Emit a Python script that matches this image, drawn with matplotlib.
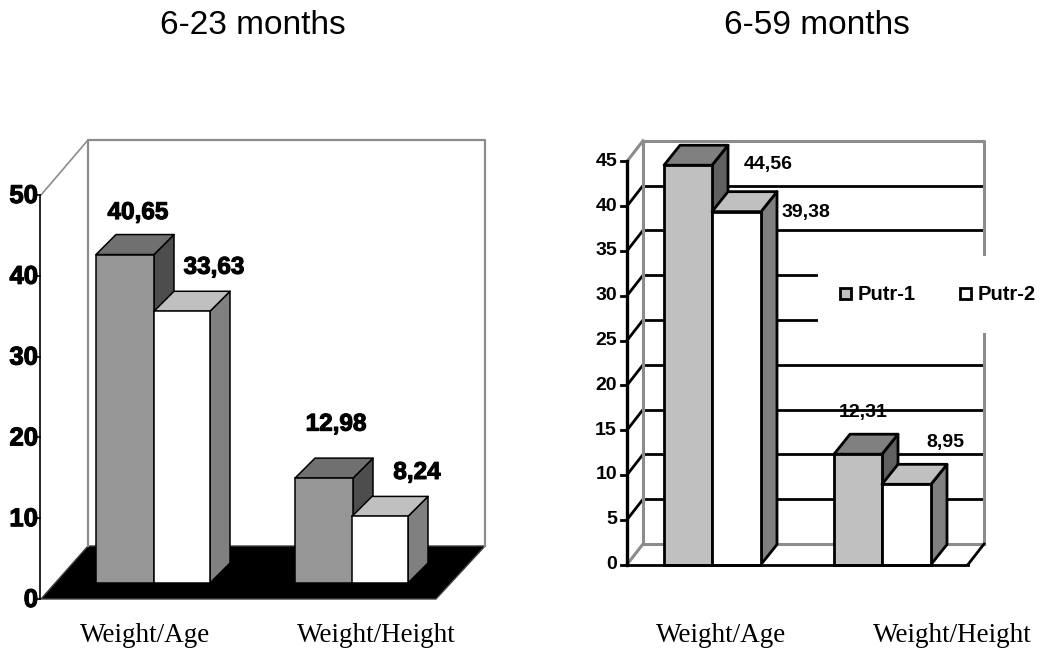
import matplotlib
matplotlib.use('Agg')
import matplotlib.pyplot as plt
import matplotlib.patheffects as pe
from matplotlib.patches import Polygon, Rectangle

W, H = 1044, 652

groups = ['Weight/Age', 'Weight/Height']
series = ['Putr-1', 'Putr-2']
left_putr1 = [40.65, 12.98]
left_putr2 = [33.63, 8.24]
right_putr1 = [44.56, 12.31]
right_putr2 = [39.38, 8.95]
left_ticks = [0, 10, 20, 30, 40, 50]
right_ticks = [0, 5, 10, 15, 20, 25, 30, 35, 40, 45]

SANS = ['Liberation Sans', 'DejaVu Sans']
SERIF = ['Liberation Serif', 'DejaVu Serif']
WALL = '#8c8c8c'
HEAVY = [pe.withStroke(linewidth=0.8, foreground='black')]

fig = plt.figure(figsize=(W / 100, H / 100), dpi=100, facecolor='white')


def panel(base_y, unit_y):
    # axes over the whole canvas, x in pixels, y in chart values
    ax = fig.add_axes([0, 0, 1, 1], facecolor='none')
    ax.set_xlim(0, W)
    ax.set_ylim((base_y - H) / unit_y, base_y / unit_y)
    ax.axis('off')
    return ax


def box(ax, x, w, val, dx, dy, front, top, side, lw):
    # a bar with its top and side faces, dx in pixels and dy in value units
    ax.add_patch(Polygon([(x + w, 0), (x + w + dx, dy), (x + w + dx, val + dy), (x + w, val)],
                         fc=side, ec='black', lw=lw, joinstyle='round'))
    ax.add_patch(Polygon([(x, val), (x + dx, val + dy), (x + w + dx, val + dy), (x + w, val)],
                         fc=top, ec='black', lw=lw, joinstyle='round'))
    ax.add_patch(Rectangle((x, 0), w, val, fc=front, ec='black', lw=lw))


def comma(v):
    return f'{v:.2f}'.replace('.', ',')


# left chart
u = 8.08
ax = panel(583, u)
fl = -16 / u       # front edge of the floor
bk = 37 / u        # back edge of the floor
top = 443 / u
ax.add_patch(Polygon([(41, fl), (88, bk), (485, bk), (436, fl)], fc='black', ec='#404040', lw=1, zorder=1))
ax.plot([88, 88, 485, 485], [bk, top, top, bk], color=WALL, lw=1.6, zorder=1)
ax.plot([41, 88], [fl + 50, top], color=WALL, lw=1.2, zorder=1)
ax.plot([40, 40], [fl, fl + 50], color='black', lw=1.2, zorder=2)
for t in left_ticks:
    ax.plot([37, 40], [fl + t, fl + t], color='black', lw=1.2, zorder=2)
    ax.text(38, fl + t - 1 / u, str(t), ha='right', va='center', family=SANS, weight='bold', size=18.5, path_effects=HEAVY)

lx1 = [96, 295]
lx2 = [154, 352]
label_x1 = [138, 336]
label_x2 = [214, 417]
gap1 = [42, 54]
gap2 = [44, 44]
for i in range(2):
    v1, v2 = left_putr1[i], left_putr2[i]
    dy = 20 / u
    box(ax, lx1[i], 58, v1, 20, dy, '#969696', '#707070', '#4d4d4d', 1.1)
    box(ax, lx2[i], 56, v2, 20, dy, 'white', '#c0c0c0', '#808080', 1.1)
    ax.text(label_x1[i], v1 + gap1[i] / u, comma(v1), ha='center', va='center',
            family=SANS, weight='bold', size=17.5, path_effects=HEAVY)
    ax.text(label_x2[i], v2 + gap2[i] / u, comma(v2), ha='center', va='center',
            family=SANS, weight='bold', size=17.5, path_effects=HEAVY)
for x, name in zip([145, 376], groups):
    ax.text(x, -53 / u, name, ha='center', va='center', family=SERIF, size=19.5)

# right chart
u = 8.96
ax = panel(564.5, u)
bk = 20.5 / u
top = 45 + bk
for t in right_ticks[1:-1]:
    ax.plot([643, 984], [t + bk, t + bk], color='black', lw=2, zorder=1)
    ax.plot([627, 643], [t, t + bk], color='black', lw=2, zorder=1)
ax.plot([643, 643], [bk, top], color=WALL, lw=2.2, zorder=1)
ax.plot([643, 984, 984], [top, top, bk], color=WALL, lw=2.2, zorder=1)
ax.plot([643, 984], [bk, bk], color=WALL, lw=2.2, zorder=1)
ax.plot([627, 643], [45, top], color=WALL, lw=2.2, zorder=1)
ax.plot([627, 643], [0, bk], color=WALL, lw=2.2, zorder=1)
ax.plot([968, 984], [0, bk], color='black', lw=2, zorder=1)
ax.plot([627, 968], [0, 0], color='black', lw=2, zorder=2)
ax.plot([627, 627], [0, 45], color='black', lw=2.4, zorder=2)
for t in right_ticks:
    ax.plot([621, 627], [t, t], color='black', lw=2, zorder=2)
    ax.text(617, t, str(t), ha='right', va='center', family=SANS, weight='bold', size=14)

rx1 = [664, 834]
rx2 = [712, 882]
for i in range(2):
    v1, v2 = right_putr1[i], right_putr2[i]
    dy = 20 / u
    box(ax, rx1[i], 48, v1, 16, dy, '#c0c0c0', '#808080', '#606060', 2)
    box(ax, rx2[i], 49, v2, 16, dy, 'white', '#c0c0c0', '#808080', 2)

# legend panel sits over the gridlines
ax.add_patch(Rectangle((818, (564.5 - 333) / u), 226, 77 / u, fc='white', ec='none', zorder=3))

label_x = [768, 806, 863, 945]
label_y = [165, 212, 413, 442]
label_v = [right_putr1[0], right_putr2[0], right_putr1[1], right_putr2[1]]
for x, y, v in zip(label_x, label_y, label_v):
    ax.text(x, (564.5 - y) / u, comma(v), ha='center', va='center', family=SANS, weight='bold', size=14, zorder=4)

for x, name, col in zip([839, 959], series, ['#c0c0c0', 'white']):
    ax.add_patch(Rectangle((x + 1, (564.5 - 299) / u), 11, 11 / u, fc=col, ec='black', lw=2, zorder=4))
    ax.text(x + 19, (564.5 - 294) / u, name, ha='left', va='center', family=SANS, weight='bold', size=14.5, zorder=4)

for x, name in zip([721, 952], groups):
    ax.text(x, (564.5 - 636) / u, name, ha='center', va='center', family=SERIF, size=19.5)

fig.text(253 / W, 1 - 26 / H, '6-23 months', ha='center', va='center', family=SANS, size=24)
fig.text(817 / W, 1 - 26 / H, '6-59 months', ha='center', va='center', family=SANS, size=24)

fig.savefig('out.png', dpi=100)
